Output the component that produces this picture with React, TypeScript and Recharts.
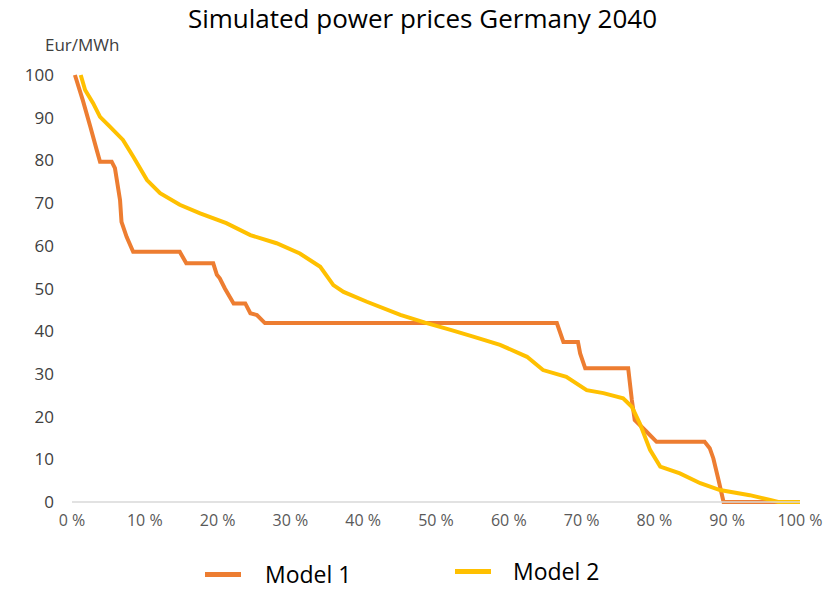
import { LineChart, Line, XAxis, YAxis } from "recharts";

const TITLE = "Simulated power prices Germany 2040";
const UNIT = "Eur/MWh";
const SERIES_NAMES = ["Model 1", "Model 2"];

const xTicks = [0, 10, 20, 30, 40, 50, 60, 70, 80, 90, 100];
const yTicks = [0, 10, 20, 30, 40, 50, 60, 70, 80, 90, 100];

// share of hours (%) vs. price
const model1X = [0.4, 1.5, 2.5, 3.4, 3.85, 5.45, 5.9, 6.6, 6.8, 7.5, 8.4, 14.8, 15.7, 19.4, 19.9, 20.3, 21.0, 22.2, 23.8, 24.5, 25.4, 26.5, 66.6, 67.5, 69.5, 69.8, 70.5, 76.4, 76.9, 77.3, 78.9, 80.3, 86.9, 87.6, 88.1, 88.8, 89.5, 100];
const model1Y = [100, 94, 88, 82.4, 79.7, 79.7, 78.2, 70.7, 65.6, 62.1, 58.6, 58.6, 55.9, 55.9, 53.2, 52.4, 50.0, 46.5, 46.5, 44.2, 43.8, 41.9, 41.9, 37.5, 37.5, 34.8, 31.3, 31.3, 23.9, 19.2, 16.5, 14.1, 14.1, 12.6, 10.2, 5.2, 0, 0];

const model2X = [1.2, 1.8, 2.9, 3.85, 5.2, 7.0, 8.4, 10.3, 12.1, 14.8, 17.6, 21.2, 24.5, 28.1, 31.3, 34.1, 35.9, 37.3, 40.5, 45.1, 48.5, 52, 55, 58.8, 62.5, 64.7, 67.9, 70.7, 73.0, 75.7, 76.9, 78.0, 79.4, 80.8, 83.5, 86.3, 89.0, 93.1, 95.9, 97, 100];
const model2Y = [100, 96.5, 93.4, 90.2, 87.9, 84.8, 80.9, 75.4, 72.3, 69.6, 67.6, 65.3, 62.5, 60.6, 58.2, 55.1, 50.8, 49.2, 46.9, 43.8, 42, 40.3, 38.8, 36.8, 34.0, 30.9, 29.3, 26.2, 25.5, 24.3, 22.3, 18.4, 12.2, 8.3, 6.7, 4.4, 2.8, 1.6, 0.5, 0, 0];

const COLORS = ["#ED7D31", "#FFC000"];
const FONT = "'Open Sans', 'Noto Sans', sans-serif";

const model1 = model1X.map((x, i) => ({ x, price: model1Y[i] }));
const model2 = model2X.map((x, i) => ({ x, price: model2Y[i] }));

export default function App() {
  return (
    <div style={{ position: "relative", width: 839, height: 589, background: "#fff", fontFamily: FONT, overflow: "hidden" }}>
      <style>{`body{margin:0}`}</style>
      <div style={{ position: "absolute", left: 0, width: 845, top: 2, textAlign: "center", fontSize: 26, lineHeight: "32px", color: "#000" }}>
        {TITLE}
      </div>
      <div style={{ position: "absolute", left: 45, top: 34, fontSize: 17, lineHeight: "22px", color: "#404040" }}>{UNIT}</div>

      <LineChart width={839} height={589} data={model1} margin={{ top: 75, right: 39, left: 0, bottom: 0 }}>
        <XAxis
          type="number"
          dataKey="x"
          domain={[0, 100]}
          ticks={xTicks}
          tickFormatter={v => `${v} %`}
          tick={{ fontSize: 16, fill: "#595959", fontFamily: FONT }}
          tickLine={false}
          tickSize={0}
          tickMargin={13}
          axisLine={{ stroke: "#d9d9d9", strokeWidth: 1.5 }}
          height={87}
          allowDuplicatedCategory={false}
        />
        <YAxis
          type="number"
          domain={[0, 100]}
          ticks={yTicks}
          tick={{ fontSize: 17, fill: "#404040", fontFamily: FONT }}
          tickLine={false}
          axisLine={false}
          tickSize={0}
          tickMargin={18}
          width={72}
        />
        <Line data={model1} dataKey="price" name={SERIES_NAMES[0]} type="linear" stroke={COLORS[0]} strokeWidth={4} dot={false} isAnimationActive={false} />
        <Line data={model2} dataKey="price" name={SERIES_NAMES[1]} type="linear" stroke={COLORS[1]} strokeWidth={4} dot={false} isAnimationActive={false} />
      </LineChart>

      {SERIES_NAMES.map((name, i) => (
        <div key={name} style={{ position: "absolute", left: i === 0 ? 205 : 455, top: i === 0 ? 560 : 557, height: 28, display: "flex", alignItems: "center" }}>
          <span style={{ display: "inline-block", width: 36, height: 5, background: COLORS[i], marginRight: i === 0 ? 24 : 22 }} />
          <span style={{ fontSize: 23, lineHeight: "28px", color: "#000" }}>{name}</span>
        </div>
      ))}
    </div>
  );
}
